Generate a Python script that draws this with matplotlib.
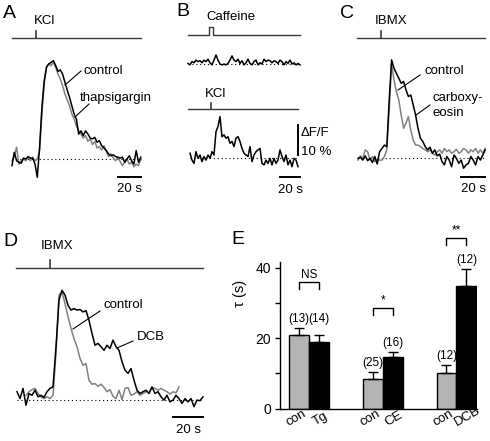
import numpy as np
import matplotlib
matplotlib.use("Agg")
import matplotlib.pyplot as plt
from matplotlib.transforms import blended_transform_factory as blend

plt.rcParams['font.family'] = ['Liberation Sans', 'DejaVu Sans']

# ================================
# Data (dF/F in %, one sample every DT seconds)
# ================================
DT = 2.0

# A: KCl, control vs thapsigargin
a_control = [-2.2, 2.2, -0.6, -1.1, -1.4, 0.3, 0.0, 0.8, 0.3, 0.3, -1.7, -6.1, 3.9, 17.2, 26.1,
             30.6, 31.7, 32.2, 32.8, 31.1, 29.2, 29.7, 28.3, 25.6, 23.0, 20.6, 17.8, 15.0, 13.3,
             8.3, 9.4, 7.8, 9.4, 8.3, 7.0, 6.7, 7.2, 5.6, 6.1, 4.4, 3.7, 2.8, 1.7, 1.1, 1.4, 0.8,
             0.6, 0.3, 0.6, -1.1, 0.0, 1.1, -0.6, -1.7, 2.8, -1.1, 0.6]
a_tg = [-0.6, 1.1, 3.9, -1.7, -0.6, 0.0, -0.6, 0.6, -0.6, 0.6, -0.6, 0.0, 2.8, 15.0, 25.0, 30.6,
        31.7, 31.1, 32.2, 30.6, 28.3, 26.7, 24.4, 21.7, 19.7, 17.8, 15.0, 13.3, 11.1, 9.4, 8.3,
        7.0, 7.8, 5.9, 6.7, 4.8, 5.9, 3.7, 4.1, 3.0, 4.4, 2.6, 0.8, 1.7, 0.3, -0.6, 0.6, -0.8,
        -2.2, -1.1, 0.0, -1.7, -1.1, -2.6, -1.7, -2.2, 0.0]
a_kcl_on = 21

# B: caffeine, then KCl
b_caf = [0.2, -0.3, 0.8, 0.4, 1.3, 0.8, 1.1, 0.4, 1.3, 0.8, 1.6, 0.4, -0.3, 1.3, 3.0, 1.3, 0.0,
         -0.3, 0.0, -0.3, 0.2, 1.3, 2.7, 1.3, 0.8, 1.6, 0.2, 1.1, -0.3, 0.4, 1.6, 0.2, -0.3, 0.8,
         1.3, -0.3, 0.4, 0.0, 1.6, 0.8, 1.3, 1.1, 0.4, 1.1, 0.8, 0.2, 1.3, 0.8, -0.3, 0.8, 0.2,
         1.3, 0.0, 0.4, -0.3, 0.2, -0.3]
b_caf_on, b_caf_off = 21, 25
b_kcl = [1.7, -0.6, -1.7, 2.2, 0.0, 1.1, -1.1, 0.6, -0.6, 1.1, 0.0, 2.2, 1.1, 8.9, 10.6, 13.9,
         7.2, 7.8, 6.7, 7.2, 5.0, 5.6, 3.9, 6.7, 7.2, 5.6, 3.3, 1.7, 1.1, 0.6, 3.9, -1.1, 1.1,
         2.2, 2.8, 3.3, -1.7, -2.2, -0.6, -1.7, 0.0, -2.2, 0.0, -1.7, -0.6, 2.8, 0.6, -1.1, 1.1,
         -2.2, -0.6, -2.8, 0.0, -0.6, -2.8]
b_kcl_on = 21

# C: IBMX, control vs carboxy-eosin
c_control = [-0.6, 0.8, 0.0, 2.8, 2.2, -0.6, 0.6, -1.1, -0.3, -0.6, -0.6, 0.6, 2.8, 16.1, 31.7,
             26.1, 22.2, 19.4, 14.4, 10.0, 11.7, 13.9, 9.4, 6.1, 4.4, 4.4, 3.9, 3.3, 2.8, 2.2,
             2.8, 1.7, 1.1, 2.2, 2.8, 1.7, 3.3, 2.2, 2.8, 1.7, 2.2, 3.0, 1.7, 2.2, 3.3, 2.8, 1.7,
             2.8, 2.2, 3.3, 1.7, 2.8, 1.7, 3.3]
c_ce = [0.0, 0.3, -0.6, 0.8, -0.8, 0.0, -1.4, 0.6, -1.9, 2.2, 3.3, 4.4, 3.9, 19.4, 32.8, 30.0,
        28.3, 26.7, 25.0, 25.6, 22.8, 20.6, 21.1, 17.8, 14.4, 10.0, 6.7, 5.6, 3.9, 2.8, 3.7, 1.7,
        2.8, 0.8, 1.4, -1.1, -2.2, 0.6, -0.6, -2.8, 1.1, 0.0, -1.7, -0.6, -3.3, -2.2, -1.7, 0.6,
        -0.6, -2.2, 0.6, -0.6, 1.1, 2.8]
c_ibmx_on = 19

# D: IBMX, control vs DCB
d_dcb = [2.6, 0.3, 3.7, -1.9, 2.0, 1.4, 3.1, 0.9, 1.4, 0.7, 2.6, 3.7, 4.2, 17.6, 33.1, 36.4,
         34.8, 31.4, 29.8, 30.3, 29.8, 30.0, 29.2, 29.6, 26.4, 22.0, 18.1, 18.7, 17.6, 16.4,
         18.1, 17.0, 19.8, 17.6, 16.4, 12.6, 9.8, 8.7, 10.3, 6.4, 3.1, 2.0, 2.6, 3.1, 2.0, 4.2,
         2.0, 2.6, 0.9, -0.2, 1.4, -0.8, -0.2, 1.4, 0.3, -1.3, 0.3, -0.8, 0.3, -2.4, -0.2, -0.4,
         0.9]
d_control = [1.4, 2.6, 3.3, 3.7, 2.0, 0.9, 0.3, 0.9, 0.3, 1.4, 15.3, 34.8, 35.9, 32.0, 27.6,
             23.7, 20.3, 17.6, 13.7, 11.4, 12.0, 6.4, 5.1, 5.3, 4.4, 5.1, 4.0, 2.6, 3.3, 1.1, 0.3,
             3.1, 0.0, 3.7, 4.0, 1.4, 1.8, 2.6, 1.4, 2.0, 2.6, 2.2, 4.0, 3.7, 3.1, 3.7, 3.1, 2.6,
             1.8, 2.6, 2.2, 4.2]
d_control_start = 6
d_ibmx_on = 22

# E: decay time constants
e_groups = ['Tg', 'CE', 'DCB']
e_con_mean = [21.0, 8.5, 10.2]
e_con_err = [1.9, 1.9, 2.2]
e_trt_mean = [19.0, 14.7, 34.9]
e_trt_err = [1.9, 1.4, 4.6]
e_con_n = [13, 25, 12]
e_trt_n = [14, 16, 12]
e_sig = ['NS', '*', '**']

# ================================
# Figure setup (pixel layout)
# ================================
W, H = 490, 441
fig = plt.figure(figsize=(W / 100, H / 100), dpi=100)

ov = fig.add_axes([0, 0, 1, 1])
ov.set_xlim(0, W)
ov.set_ylim(H, 0)
ov.axis('off')
ov.set_zorder(5)

FS = 9.5
NFS = 8.5
PFS = 14
GRAY = '#808080'
STIM = '#3a3a3a'
LW = 1.1


def trace_axes(box, x0, y0, px_per_s, px_per_pct=3.0):
    l, t, r, b = box
    ax = fig.add_axes([l / W, 1 - b / H, (r - l) / W, (b - t) / H])
    ax.set_xlim((l - x0) / px_per_s, (r - x0) / px_per_s)
    ax.set_ylim((y0 - b) / px_per_pct, (y0 - t) / px_per_pct)
    ax.axis('off')
    return ax


def stim_line(ax, t0, t1, t_on, y, tick=7):
    tr = blend(ax.transData, ov.transData)
    ax.plot([t0, t1], [y, y], color=STIM, lw=1.0, transform=tr, clip_on=False)
    ax.plot([t_on, t_on], [y, y - tick], color=STIM, lw=1.2, transform=tr, clip_on=False)


def time_bar(ax, t_end, y):
    tr = blend(ax.transData, ov.transData)
    ax.plot([t_end - 20, t_end], [y, y], color='k', lw=1.4, transform=tr, clip_on=False)
    ax.text(t_end - 10, y + 13, '20 s', transform=tr, ha='center', va='center', fontsize=FS)


def baseline(ax, t_end):
    ax.plot([0, t_end], [0, 0], color='k', lw=0.8, ls=(0, (1, 2.5)))


def leader(x0, y0, x1, y1):
    ov.plot([x0, x1], [y0, y1], color='k', lw=0.8)


# ================================
# A
# ================================
axA = trace_axes((0, 0, 165, 205), x0=12, y0=159, px_per_s=1.15)
tA = np.arange(len(a_control)) * DT
baseline(axA, tA[-1])
axA.plot(tA, a_tg, color=GRAY, lw=LW)
axA.plot(tA, a_control, color='k', lw=LW)
stim_line(axA, 0, tA[-1], a_kcl_on, 38)
time_bar(axA, tA[-1], 176.5)
ov.text(3, 14, 'A', fontsize=PFS, ha='left', va='center')
ov.text(34, 21, 'KCl', fontsize=FS, ha='left', va='center')
ov.text(83, 71, 'control', fontsize=FS, ha='left', va='center')
ov.text(80, 98, 'thapsigargin', fontsize=FS, ha='left', va='center')
leader(65, 85, 81, 71)
leader(75, 117, 89, 104)

# ================================
# B
# ================================
axB1 = trace_axes((172, 0, 330, 80), x0=188, y0=64, px_per_s=1.0)
tB1 = np.arange(len(b_caf)) * DT
baseline(axB1, tB1[-1])
axB1.plot(tB1, b_caf, color='k', lw=LW)
trB1 = blend(axB1.transData, ov.transData)
axB1.plot([0, b_caf_on, b_caf_on, b_caf_off, b_caf_off, tB1[-1]],
          [35, 35, 27, 27, 35, 35], color=STIM, lw=1.0, transform=trB1, clip_on=False)

axB2 = trace_axes((172, 80, 330, 205), x0=190, y0=158.3, px_per_s=1.0)
tB2 = np.arange(len(b_kcl)) * DT
baseline(axB2, tB2[-1])
axB2.plot(tB2, b_kcl, color='k', lw=LW)
stim_line(axB2, -2, tB2[-1], b_kcl_on, 109.3, tick=6)
time_bar(axB2, tB2[-1] + 2, 177)
axB2.plot([297.7, 297.7], [1, 11], color='k', lw=1.4,
          transform=blend(ov.transData, axB2.transData), clip_on=False)
ov.text(176, 12, 'B', fontsize=PFS, ha='left', va='center')
ov.text(206, 17, 'Caffeine', fontsize=FS, ha='left', va='center')
ov.text(205, 94, 'KCl', fontsize=FS, ha='left', va='center')
ov.text(301, 133, 'ΔF/F', fontsize=FS, ha='left', va='center')
ov.text(301, 152, '10 %', fontsize=FS, ha='left', va='center')

# ================================
# C
# ================================
axC = trace_axes((330, 0, 490, 205), x0=358, y0=158.3, px_per_s=1.2)
tC = np.arange(len(c_ce)) * DT
baseline(axC, tC[-1])
axC.plot(tC, c_control, color=GRAY, lw=LW)
axC.plot(tC, c_ce, color='k', lw=LW)
stim_line(axC, -1, tC[-1], c_ibmx_on, 38.3)
time_bar(axC, tC[-1], 176.5)
ov.text(340, 13, 'C', fontsize=PFS, ha='left', va='center')
ov.text(375, 21, 'IBMX', fontsize=FS, ha='left', va='center')
ov.text(424, 71, 'control', fontsize=FS, ha='left', va='center')
ov.text(432, 98, 'carboxy-', fontsize=FS, ha='left', va='center')
ov.text(432, 113, 'eosin', fontsize=FS, ha='left', va='center')
leader(398, 90, 420, 75)
leader(416, 115, 430, 105)

# ================================
# D
# ================================
axD = trace_axes((0, 225, 235, 441), x0=17, y0=399.5, px_per_s=1.5)
tD = np.arange(len(d_dcb)) * DT
tDc = d_control_start + np.arange(len(d_control)) * DT
baseline(axD, tD[-1])
axD.plot(tDc, d_control, color=GRAY, lw=LW)
axD.plot(tD, d_dcb, color='k', lw=LW)
stim_line(axD, -1, tD[-1], d_ibmx_on, 267.7, tick=8)
time_bar(axD, tD[-1], 417)
ov.text(3, 241, 'D', fontsize=PFS, ha='left', va='center')
ov.text(41, 246, 'IBMX', fontsize=FS, ha='left', va='center')
ov.text(103, 305, 'control', fontsize=FS, ha='left', va='center')
ov.text(137, 337, 'DCB', fontsize=FS, ha='left', va='center')
leader(73, 329, 100, 311)
leader(117, 348, 133, 341)

# ================================
# E
# ================================
axE = fig.add_axes([280 / W, 1 - 408.5 / H, (477 - 280) / W, (408.5 - 262.3) / H])
axE.patch.set_alpha(0)
g = np.arange(len(e_groups))
w = 0.27
xc = g - w / 2
xt = g + w / 2
axE.bar(xc, e_con_mean, w, color='#b4b4b4', edgecolor='k', linewidth=1, zorder=2)
axE.bar(xt, e_trt_mean, w, color='k', edgecolor='k', linewidth=1, zorder=2)
axE.errorbar(xc, e_con_mean, yerr=[np.zeros(3), e_con_err], fmt='none', ecolor='k',
             elinewidth=1, capsize=3.5, capthick=1, zorder=3)
axE.errorbar(xt, e_trt_mean, yerr=[np.zeros(3), e_trt_err], fmt='none', ecolor='k',
             elinewidth=1, capsize=3.5, capthick=1, zorder=3)
axE.set_xlim(-0.396, 2.28)
axE.set_ylim(0, 41.5)
axE.set_yticks([0, 20, 40])
axE.set_yticks([10, 30], minor=True)
axE.set_xticks([])
axE.tick_params(axis='y', which='both', length=3.5, width=1, direction='out',
                labelsize=10, pad=3)
for s in ['top', 'right']:
    axE.spines[s].set_visible(False)
for s in ['left', 'bottom']:
    axE.spines[s].set_linewidth(1)
axE.set_ylabel('τ (s)', fontsize=10.5)
axE.yaxis.set_label_coords(-0.165, 0.79)

bracket_gap = [12, 11.5, 8]
for i in range(len(e_groups)):
    top_c = e_con_mean[i] + e_con_err[i] + 0.9
    top_t = e_trt_mean[i] + e_trt_err[i] + 0.9
    if abs(top_c - top_t) < 3:
        top_c = top_t = max(top_c, top_t)
    axE.text(xc[i], top_c, f'({e_con_n[i]})', ha='center', va='bottom', fontsize=NFS,
             clip_on=False)
    axE.text(xt[i], top_t, f'({e_trt_n[i]})', ha='center', va='bottom', fontsize=NFS,
             clip_on=False)
    yb = max(top_c, top_t) + bracket_gap[i]
    axE.plot([xc[i], xc[i], xt[i], xt[i]], [yb - 2, yb, yb, yb - 2], color='k', lw=1,
             clip_on=False)
    axE.text(g[i], yb + 0.5, e_sig[i], ha='center', va='bottom', fontsize=NFS,
             clip_on=False)
    axE.text(xc[i] - 0.04, -0.135, 'con', transform=axE.get_xaxis_transform(), rotation=30,
             ha='center', va='bottom', fontsize=9.5)
    axE.text(xt[i] + 0.02, -0.135, e_groups[i], transform=axE.get_xaxis_transform(),
             rotation=30, ha='center', va='bottom', fontsize=9.5)

ov.text(231, 240, 'E', fontsize=PFS, ha='left', va='center')

plt.savefig("out.png", dpi=100)
